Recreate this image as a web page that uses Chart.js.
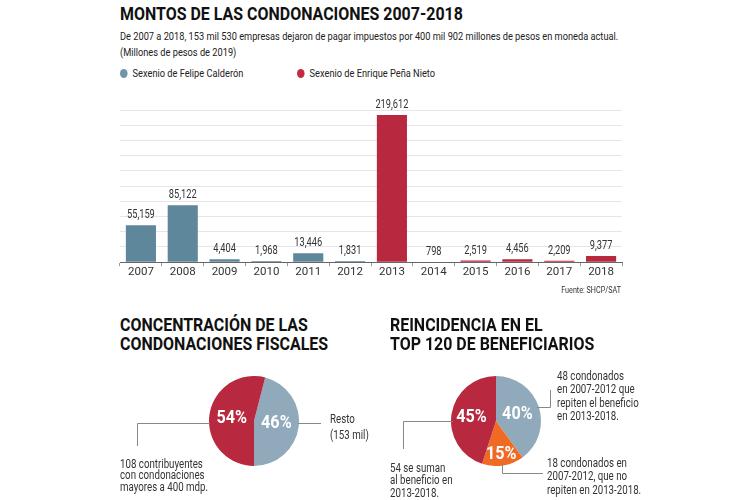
<!DOCTYPE html>
<html><head><meta charset="utf-8">
<script src="https://cdn.jsdelivr.net/npm/chart.js@4/dist/chart.umd.min.js"></script>
<style>
html,body{margin:0;padding:0;background:#fff;}
#wrap{position:relative;width:750px;height:500px;overflow:hidden;font-family:Roboto,sans-serif;color:#222;}
.t{position:absolute;white-space:nowrap;transform-origin:0 0;}
.h{font-weight:bold;font-size:19px;color:#111;line-height:19px;transform:scaleX(0.84);}
.s{font-size:11px;color:#222;transform:scaleX(0.84);}
.n{font-size:12px;color:#333;transform:scaleX(0.81);}
canvas{position:absolute;}
svg{position:absolute;left:0;top:0;}
.dot{display:inline-block;width:9px;height:9px;border-radius:50%;vertical-align:-1px;margin-right:6px;}
</style></head>
<body><div id="wrap">
<div class="t h" style="left:120px;top:4px;">MONTOS DE LAS CONDONACIONES 2007-2018</div>
<div class="t s" style="left:120px;top:30px;">De 2007 a 2018, 153 mil 530 empresas dejaron de pagar impuestos por 400 mil 902 millones de pesos en moneda actual.</div>
<div class="t s" style="left:120px;top:46px;">(Millones de pesos de 2019)</div>
<div class="t s" style="left:120px;top:67px;"><span class="dot" style="background:#6f95aa"></span>Sexenio de Felipe Calderón</div>
<div class="t s" style="left:297px;top:67px;"><span class="dot" style="background:#c42a42"></span>Sexenio de Enrique Peña Nieto</div>
<canvas id="bar" width="750" height="300" style="left:0;top:0;width:750px;height:300px;"></canvas>
<div class="t" style="left:621px;top:285px;font-size:9px;color:#333;transform:translateX(-100%) scaleX(0.8);transform-origin:100% 0;">Fuente: SHCP/SAT</div>

<div class="t h" style="left:120px;top:315px;">CONCENTRACIÓN DE LAS<br>CONDONACIONES FISCALES</div>
<div class="t h" style="left:390px;top:315px;">REINCIDENCIA EN EL<br>TOP 120 DE BENEFICIARIOS</div>

<canvas id="pie1" width="90" height="90" style="left:209px;top:376px;width:90px;height:90px;"></canvas>
<canvas id="pie2" width="90" height="90" style="left:451px;top:376px;width:90px;height:90px;"></canvas>

<svg width="750" height="500" style="pointer-events:none">
<g stroke="#888" stroke-width="1" fill="none">
<polyline points="210,423.5 137.5,423.5 137.5,446"/>
<polyline points="298,423.5 321,423.5"/>
<polyline points="453,421.5 403.5,421.5 403.5,449"/>
<polyline points="537,407.5 550.5,407.5 550.5,390"/>
<polyline points="502.5,463 502.5,473.5 543,473.5"/>
</g></svg>

<div class="t n" style="left:120px;top:459px;line-height:11.3px;">108 contribuyentes<br>con condonaciones<br>mayores a 400 mdp.</div>
<div class="t n" style="left:330px;top:411px;line-height:16px;">Resto<br>(153 mil)</div>
<div class="t n" style="left:390px;top:462px;line-height:12.3px;">54 se suman<br>al beneficio en<br>2013-2018.</div>
<div class="t n" style="left:557px;top:370px;line-height:13.3px;">48 condonados<br>en 2007-2012 que<br>repiten el beneficio<br>en 2013-2018.</div>
<div class="t n" style="left:547px;top:457px;line-height:13.3px;">18 condonados en<br>2007-2012, que no<br>repiten en 2013-2018.</div>
</div>
<script>
const years = ["2007","2008","2009","2010","2011","2012","2013","2014","2015","2016","2017","2018"];
const amounts = [55159,85122,4404,1968,13446,1831,219612,798,2519,4456,2209,9377];
const amountLabels = ["55,159","85,122","4,404","1,968","13,446","1,831","219,612","798","2,519","4,456","2,209","9,377"];
const sexenio = ["C","C","C","C","C","C","P","P","P","P","P","P"];
const concLabels = ["Resto (153 mil)","108 contribuyentes"];
const concValues = [46,54];
const reinLabels = ["Repiten","No repiten","Se suman"];
const reinValues = [40,15,45];

const BLUE="#5f879b", RED="#b8293f", PBLUE="#90aabb", ORANGE="#f06a24";
const FONT='Roboto, sans-serif';

const valueLabels = {
  id:'valueLabels',
  afterDatasetsDraw(chart){
    const ctx=chart.ctx, meta=chart.getDatasetMeta(0);
    meta.data.forEach((b,i)=>{
      ctx.save();
      ctx.translate(b.x, b.y-10); ctx.scale(0.74,1);
      ctx.font='12.5px '+FONT; ctx.fillStyle='#333'; ctx.textAlign='center'; ctx.textBaseline='middle';
      ctx.fillText(amountLabels[i], 0, 0);
      ctx.restore();
    });
  }
};

new Chart(document.getElementById('bar'),{
  type:'bar',
  data:{labels:years,datasets:[{data:amounts,backgroundColor:sexenio.map(s=>s==="C"?BLUE:RED),barPercentage:0.72,categoryPercentage:1}]},
  options:{
    responsive:false,animation:false,
    layout:{padding:{left:120,right:128,top:110,bottom:22}},
    plugins:{legend:{display:false},tooltip:{enabled:false}},
    scales:{
      x:{grid:{offset:true,drawOnChartArea:false,tickLength:4,color:'#999'},border:{display:true,color:'#666'},
         ticks:{font:{family:FONT,size:11.5},color:'#333',padding:-1}},
      y:{min:0,max:227250,ticks:{display:false,stepSize:22725},grid:{color:'#e6e6e6',drawTicks:false},border:{display:false}}
    }
  },
  plugins:[valueLabels]
});

function pctPlugin(texts, radii){
  return {id:'pct',afterDatasetsDraw(chart){
    const ctx=chart.ctx, meta=chart.getDatasetMeta(0);
    meta.data.forEach((a,i)=>{
      const mid=(a.startAngle+a.endAngle)/2, r=a.outerRadius*radii[i];
      ctx.save();
      ctx.translate(a.x+Math.cos(mid)*r, a.y+Math.sin(mid)*r); ctx.scale(0.9,1);
      ctx.font='bold 18px '+FONT; ctx.fillStyle='#fff'; ctx.textAlign='center'; ctx.textBaseline='middle';
      ctx.fillText(texts[i], 0, 0);
      ctx.restore();
    });
  }};
}

new Chart(document.getElementById('pie1'),{
  type:'pie',
  data:{labels:concLabels,datasets:[{data:concValues,backgroundColor:[PBLUE,RED],borderWidth:0}]},
  options:{responsive:false,animation:false,rotation:14.4,plugins:{legend:{display:false},tooltip:{enabled:false}}},
  plugins:[pctPlugin(concValues.map(v=>v+'%'),[0.5,0.5])]
});
new Chart(document.getElementById('pie2'),{
  type:'pie',
  data:{labels:reinLabels,datasets:[{data:reinValues,backgroundColor:[PBLUE,ORANGE,RED],borderWidth:0}]},
  options:{responsive:false,animation:false,rotation:0,plugins:{legend:{display:false},tooltip:{enabled:false}}},
  plugins:[pctPlugin(reinValues.map(v=>v+'%'),[0.5,0.75,0.55])]
});
</script>
</body></html>
